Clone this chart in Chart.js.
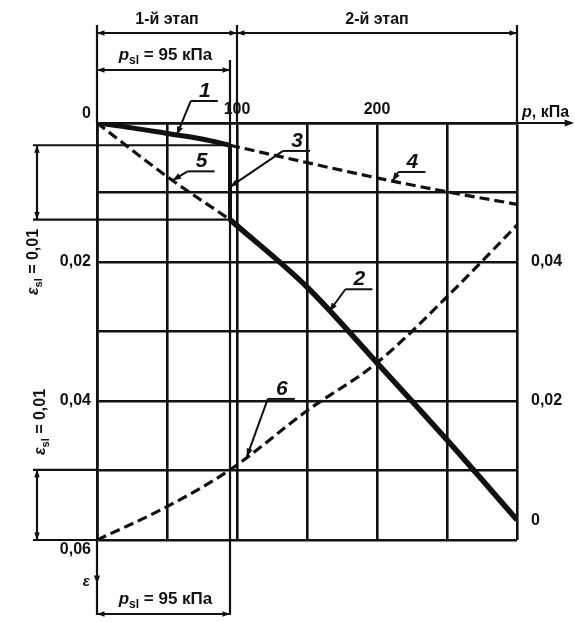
<!DOCTYPE html>
<html>
<head>
<meta charset="utf-8">
<script src="https://cdn.jsdelivr.net/npm/chart.js@4.4.0/dist/chart.umd.min.js"></script>
<style>
  html, body { margin: 0; background: #fff; }
  #wrap { width: 575px; height: 622px; }
</style>
</head>
<body>
<div id="wrap"><canvas id="settlement"></canvas></div>
<script>
// pressure p, kPa -> relative settlement
const pSl = 95

const pCurve1 = [0, 25, 50, 75, 95]
const eCurve1 = [0, 0.0007, 0.0015, 0.0023, 0.0032]

const pCurve2 = [95, 150, 200, 250, 300]
const eCurve2 = [0.0139, 0.0236, 0.0345, 0.0456, 0.0571]

const pCurve3 = [95, 95]
const eCurve3 = [0.0032, 0.0139]

const pCurve4 = [95, 150, 200, 250, 300]
const eCurve4 = [0.0032, 0.0057, 0.0079, 0.0099, 0.0117]

const pCurve5 = [0, 50, 95]
const eCurve5 = [0, 0.0077, 0.0139]

// right axis: relative subsidence
const pCurve6 = [0, 50, 95, 150, 200, 250, 300]
const eCurve6 = [0, 0.0048, 0.0101, 0.0186, 0.0255, 0.035, 0.0453]

const xTickValues = [100, 200]
const xTickLabels = ['100', '200']
const leftTickValues = [0, 0.02, 0.04, 0.06]
const leftTickLabels = ['0', '0,02', '0,04', '0,06']
const rightTickValues = [0, 0.02, 0.04]
const rightTickLabels = ['0', '0,02', '0,04']

const FONT = '"Liberation Sans", Arial, sans-serif'
const INK = '#111'

const findLabel = (v, values, labels) => {
    const i = values.findIndex(t => Math.abs(t - v) < 1e-6)
    return i < 0 ? '' : labels[i]
}

const lineDs = (label, xs, ys, width, dash, axis, smooth) => ({
    label,
    data: xs.map((x, i) => ({x, y: ys[i]})),
    borderColor: INK,
    borderWidth: width,
    borderDash: dash,
    pointRadius: 0,
    cubicInterpolationMode: smooth ? 'monotone' : 'default',
    tension: 0,
    fill: false,
    yAxisID: axis
})

// value on a curve at pressure p (for pointing leader arrows)
const valueAt = (ps, es, p) => {
    for (let i = 1; i < ps.length; i++) {
        if (p <= ps[i]) {
            const t = (p - ps[i - 1]) / (ps[i] - ps[i - 1] || 1)
            return es[i - 1] + t * (es[i] - es[i - 1])
        }
    }
    return es[es.length - 1]
}

const callouts = [
    {text: '1', axis: 'y', p: 57, e: valueAt(pCurve1, eCurve1, 57), dx: 14, dy: -34},
    {text: '5', axis: 'y', p: 54, e: valueAt(pCurve5, eCurve5, 54), dx: 15, dy: -9},
    {text: '3', axis: 'y', p: pSl, e: 0.0092, dx: 53, dy: -36},
    {text: '4', axis: 'y', p: 211, e: valueAt(pCurve4, eCurve4, 211), dx: 6, dy: -9},
    {text: '2', axis: 'y', p: 166, e: valueAt(pCurve2, eCurve2, 166), dx: 16, dy: -22},
    {text: '6', axis: 'y2', p: 107, e: valueAt(pCurve6, eCurve6, 107), dx: 21, dy: -58}
]

const arrowHead = (ctx, x1, y1, x2, y2, size) => {
    const a = Math.atan2(y2 - y1, x2 - x1)
    ctx.beginPath()
    ctx.moveTo(x2, y2)
    ctx.lineTo(x2 - size * Math.cos(a - 0.35), y2 - size * Math.sin(a - 0.35))
    ctx.lineTo(x2 - size * Math.cos(a + 0.35), y2 - size * Math.sin(a + 0.35))
    ctx.closePath()
    ctx.fill()
}

const line = (ctx, x1, y1, x2, y2) => {
    ctx.beginPath()
    ctx.moveTo(x1, y1)
    ctx.lineTo(x2, y2)
    ctx.stroke()
}

// "p" + subscript "sl" + rest, centred on x, baseline y
const subText = (ctx, x, y, base, sub, rest, size) => {
    ctx.font = `italic bold ${size}px ${FONT}`
    const wB = ctx.measureText(base).width
    ctx.font = `bold ${Math.round(size * 0.7)}px ${FONT}`
    const wS = ctx.measureText(sub).width
    ctx.font = `bold ${size}px ${FONT}`
    const wR = ctx.measureText(rest).width
    let cx = x - (wB + wS + wR) / 2
    ctx.textAlign = 'left'
    ctx.textBaseline = 'alphabetic'
    ctx.font = `italic bold ${size}px ${FONT}`
    ctx.fillText(base, cx, y)
    cx += wB
    ctx.font = `bold ${Math.round(size * 0.7)}px ${FONT}`
    ctx.fillText(sub, cx, y + size * 0.25)
    cx += wS
    ctx.font = `bold ${size}px ${FONT}`
    ctx.fillText(rest, cx, y)
}

const annotations = {
    id: 'annotations',
    afterDraw(chart) {
        const {ctx, scales: {x, y, y2}} = chart
        const x0 = x.getPixelForValue(0)
        const x100 = x.getPixelForValue(100)
        const x300 = x.getPixelForValue(300)
        const xSl = x.getPixelForValue(pSl)
        const yTop = y.getPixelForValue(0)
        const yBot = y.getPixelForValue(0.06)
        const yA = y.getPixelForValue(eCurve1[eCurve1.length - 1])
        const yB = y.getPixelForValue(eCurve5[eCurve5.length - 1])
        const yE = y2.getPixelForValue(valueAt(pCurve6, eCurve6, pSl))
        const yFoot = 615

        ctx.save()
        ctx.strokeStyle = INK
        ctx.fillStyle = INK
        ctx.lineWidth = 2.2

        // stages
        line(ctx, x0, 25, x0, yTop)
        line(ctx, x100, 25, x100, yTop)
        line(ctx, x300, 25, x300, yTop)
        line(ctx, x0, 33, x300, 33)
        arrowHead(ctx, x100, 33, x0, 33, 8)
        arrowHead(ctx, x0, 33, x100, 33, 8)
        arrowHead(ctx, x300, 33, x100, 33, 8)
        arrowHead(ctx, x100, 33, x300, 33, 8)
        ctx.font = `bold 16px ${FONT}`
        ctx.textAlign = 'center'
        ctx.textBaseline = 'alphabetic'
        ctx.fillText('1-й этап', (x0 + x100) / 2, 24)
        ctx.fillText('2-й этап', (x100 + x300) / 2, 24)

        // p_sl above
        line(ctx, xSl, 60, xSl, yFoot)
        line(ctx, x0, 70, xSl, 70)
        arrowHead(ctx, xSl, 70, x0, 70, 8)
        arrowHead(ctx, x0, 70, xSl, 70, 8)
        subText(ctx, (x0 + xSl) / 2 + 2, 60, 'p', 'sl', ' = 95 кПа', 17)

        // p axis arrow and title
        line(ctx, x300, yTop, 572, yTop)
        arrowHead(ctx, 540, yTop, 574, yTop, 10)
        ctx.font = `italic bold 16px ${FONT}`
        ctx.textAlign = 'left'
        ctx.fillText('p', 522, 117)
        const wp = ctx.measureText('p').width
        ctx.font = `bold 16px ${FONT}`
        ctx.fillText(', кПа', 522 + wp, 117)

        // upper eps_sl dimension
        line(ctx, 33, yA, xSl, yA)
        line(ctx, 33, yB, xSl, yB)
        line(ctx, 37, yA, 37, yB)
        arrowHead(ctx, 37, yB, 37, yA, 8)
        arrowHead(ctx, 37, yA, 37, yB, 8)
        ctx.save()
        ctx.translate(38, 262)
        ctx.rotate(-Math.PI / 2)
        subText(ctx, 0, 0, 'ε', 'sl', ' = 0,01', 16)
        ctx.restore()

        // lower eps_sl dimension
        line(ctx, 33, yE, x0, yE)
        line(ctx, 33, yBot, x0, yBot)
        line(ctx, 37, yE, 37, yBot)
        arrowHead(ctx, 37, yBot, 37, yE, 8)
        arrowHead(ctx, 37, yE, 37, yBot, 8)
        ctx.save()
        ctx.translate(45, 422)
        ctx.rotate(-Math.PI / 2)
        subText(ctx, 0, 0, 'ε', 'sl', ' = 0,01', 16)
        ctx.restore()

        // p_sl below and eps axis
        line(ctx, x0, yBot, x0, yFoot)
        line(ctx, x0, yFoot - 1, xSl, yFoot - 1)
        arrowHead(ctx, xSl, yFoot - 1, x0, yFoot - 1, 8)
        arrowHead(ctx, x0, yFoot - 1, xSl, yFoot - 1, 8)
        arrowHead(ctx, x0, 560, x0, 584, 9)
        ctx.font = `italic bold 15px ${FONT}`
        ctx.textAlign = 'right'
        ctx.fillText('ε', 90, 586)
        subText(ctx, (x0 + xSl) / 2 + 2, 604, 'p', 'sl', ' = 95 кПа', 17)

        // curve numbers with leaders
        callouts.forEach(c => {
            const tx = x.getPixelForValue(c.p)
            const ty = chart.scales[c.axis].getPixelForValue(c.e)
            const lx = tx + c.dx
            const ly = ty + c.dy
            ctx.lineWidth = 2
            line(ctx, lx, ly, tx, ty)
            arrowHead(ctx, lx, ly, tx, ty, 9)
            line(ctx, lx, ly, lx + 27, ly)
            ctx.font = `italic bold 21px ${FONT}`
            ctx.textAlign = 'center'
            ctx.fillText(c.text, lx + 14, ly - 4)
        })
        ctx.restore()
    }
}

const gridStyle = {color: INK, lineWidth: 2.6, drawTicks: false}
const tickFont = {family: FONT, size: 16, weight: 'bold'}

new Chart(document.getElementById('settlement'), {
    type: 'line',
    data: {
        datasets: [
            lineDs('1', pCurve1, eCurve1, 5, [], 'y', true),
            lineDs('2', pCurve2, eCurve2, 5.5, [], 'y', true),
            lineDs('3', pCurve3, eCurve3, 4, [], 'y', false),
            lineDs('4', pCurve4, eCurve4, 3.2, [10, 5], 'y', true),
            lineDs('5', pCurve5, eCurve5, 3.2, [10, 5], 'y', true),
            lineDs('6', pCurve6, eCurve6, 3.2, [10, 5], 'y2', true)
        ]
    },
    options: {
        responsive: true,
        maintainAspectRatio: false,
        animation: false,
        layout: {padding: {top: 0, left: 0, right: 0, bottom: 82}},
        plugins: {legend: {display: false}, tooltip: {enabled: false}},
        scales: {
            x: {
                type: 'linear', position: 'top', min: 0, max: 300,
                grid: gridStyle,
                border: {color: INK, width: 2.6},
                ticks: {
                    stepSize: 50, autoSkip: false, maxRotation: 0, padding: 4,
                    color: INK, font: tickFont,
                    callback: v => findLabel(v, xTickValues, xTickLabels)
                },
                afterFit: s => { s.height = 123 }
            },
            y: {
                type: 'linear', position: 'left', reverse: true, min: 0, max: 0.06,
                grid: gridStyle,
                border: {color: INK, width: 2.6},
                ticks: {
                    stepSize: 0.01, autoSkip: false, padding: 6,
                    color: INK, font: tickFont,
                    callback: v => {
                        const t = findLabel(v, leftTickValues, leftTickLabels)
                        if (v < 1e-6) return [t, '']
                        if (v > 0.06 - 1e-6) return ['', t]
                        return t
                    }
                },
                afterFit: s => { s.width = 97 }
            },
            y2: {
                type: 'linear', position: 'right', min: 0, max: 0.06,
                grid: {display: false},
                border: {display: false},
                ticks: {
                    stepSize: 0.01, autoSkip: false, padding: 6,
                    color: INK, font: tickFont,
                    callback: v => {
                        const t = findLabel(v, rightTickValues, rightTickLabels)
                        if (v < 1e-6) return [t, '', '']
                        return t
                    }
                },
                afterFit: s => { s.width = 58 }
            }
        }
    },
    plugins: [annotations]
})
</script>
</body>
</html>
